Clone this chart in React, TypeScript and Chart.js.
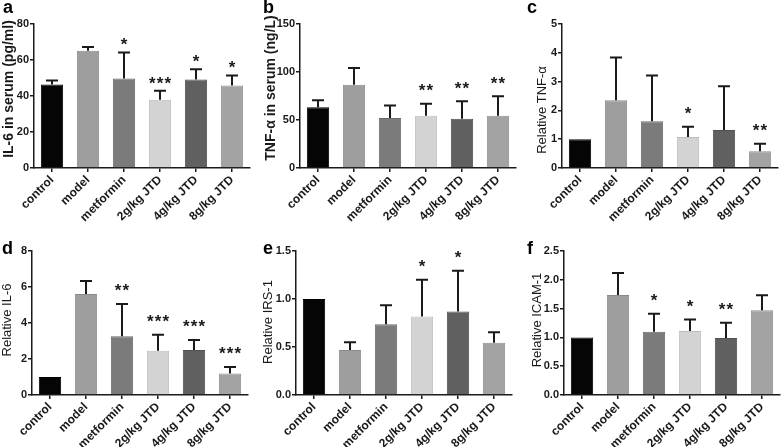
import React, { useEffect, useRef } from "react";
import { Chart, registerables } from "chart.js";
Chart.register(...registerables);

const FONT = '"Liberation Sans", Arial, Helvetica, sans-serif';
const INK = "#1a1a1a";

const categories = ["control", "model", "metformin", "2g/kg JTD", "4g/kg JTD", "8g/kg JTD"];
const barColors = ["#050505", "#9e9e9e", "#7b7b7b", "#d3d3d3", "#606060", "#a3a3a3"];
const barBorders = ["#000000", "#8a8a8a", "#6a6a6a", "#bdbdbd", "#505050", "#8f8f8f"];

// a: IL-6 in serum
const il6SerumMean = [46.4, 65.2, 49.7, 37.9, 49.2, 45.8];
const il6SerumErr = [2.2, 2.0, 14.5, 5.0, 5.6, 5.6];
const il6SerumStars = ["", "", "*", "***", "*", "*"];

// b: TNF-α in serum
const tnfSerumMean = [63.3, 86.7, 52.2, 54.3, 51.2, 54.3];
const tnfSerumErr = [7.3, 17.4, 12.9, 12.5, 18.4, 20.5];
const tnfSerumStars = ["", "", "", "**", "**", "**"];

// c: Relative TNF-α
const relTnfMean = [1.0, 2.35, 1.62, 1.08, 1.32, 0.58];
const relTnfErr = [0, 1.49, 1.59, 0.35, 1.52, 0.26];
const relTnfStars = ["", "", "", "*", "", "**"];

// d: Relative IL-6
const relIl6Mean = [1.0, 5.61, 3.26, 2.46, 2.5, 1.19];
const relIl6Err = [0, 0.72, 1.8, 0.89, 0.56, 0.37];
const relIl6Stars = ["", "", "**", "***", "***", "***"];

// e: Relative IRS-1
const relIrsMean = [1.0, 0.469, 0.736, 0.819, 0.87, 0.545];
const relIrsErr = [0, 0.08, 0.198, 0.381, 0.425, 0.108];
const relIrsStars = ["", "", "", "*", "*", ""];

// f: Relative ICAM-1
const relIcamMean = [1.0, 1.735, 1.1, 1.11, 0.99, 1.47];
const relIcamErr = [0, 0.385, 0.31, 0.2, 0.266, 0.26];
const relIcamStars = ["", "", "*", "*", "**", ""];

type PanelCfg = {
  letter: string;
  left: number; top: number; width: number; height: number;
  axisW: number; padTop: number; padR: number; xH: number;
  max: number; step: number; dec: number;
  title: string; titleBold: boolean; titleSize: number; titleX: number; titleY: number;
  starGap: number; letterX: number; letterY: number;
  means: number[]; errs: number[]; stars: string[];
};

const TOP = { top: 0, height: 222, padTop: 24, xH: 54, letterY: 13 };
const BOT = { top: 222, height: 225, padTop: 29, xH: 52, letterY: 32 };

const panels: PanelCfg[] = [
  { letter: "a", left: 0, width: 260, ...TOP, axisW: 34, padR: 10, max: 80, step: 20, dec: 0,
    title: "IL-6 in serum (pg/ml)", titleBold: true, titleSize: 14, titleX: 9, titleY: 89,
    starGap: 12, letterX: 3, means: il6SerumMean, errs: il6SerumErr, stars: il6SerumStars },
  { letter: "b", left: 260, width: 260, ...TOP, axisW: 40, padR: 4, max: 150, step: 50, dec: 0,
    title: "TNF-α in serum (ng/L)", titleBold: true, titleSize: 14, titleX: 11, titleY: 88,
    starGap: 17.5, letterX: 3, means: tnfSerumMean, errs: tnfSerumErr, stars: tnfSerumStars },
  { letter: "c", left: 522, width: 260, ...TOP, axisW: 40, padR: 4, max: 5, step: 1, dec: 0,
    title: "Relative TNF-α", titleBold: false, titleSize: 13, titleX: 20.5, titleY: 110,
    starGap: 17.5, letterX: 5, means: relTnfMean, errs: relTnfErr, stars: relTnfStars },
  { letter: "d", left: 0, width: 260, ...BOT, axisW: 32, padR: 12, max: 8, step: 2, dec: 0,
    title: "Relative IL-6", titleBold: false, titleSize: 13, titleX: 7.5, titleY: 98,
    starGap: 17.5, letterX: 2, means: relIl6Mean, errs: relIl6Err, stars: relIl6Stars },
  { letter: "e", left: 260, width: 260, ...BOT, axisW: 36, padR: 8, max: 1.5, step: 0.5, dec: 1,
    title: "Relative IRS-1", titleBold: false, titleSize: 13, titleX: 8, titleY: 100,
    starGap: 17.5, letterX: 3, means: relIrsMean, errs: relIrsErr, stars: relIrsStars },
  { letter: "f", left: 522, width: 260, ...BOT, axisW: 42, padR: 2, max: 2.5, step: 0.5, dec: 1,
    title: "Relative ICAM-1", titleBold: false, titleSize: 13, titleX: 15, titleY: 98,
    starGap: 17.5, letterX: 5, means: relIcamMean, errs: relIcamErr, stars: relIcamStars },
];

function makeOverlay(p: PanelCfg) {
  return {
    id: "overlay_" + p.letter,
    afterDatasetsDraw(chart: any) {
      const ctx = chart.ctx as CanvasRenderingContext2D;
      const meta = chart.getDatasetMeta(0);
      const ys = chart.scales.y;
      ctx.save();
      meta.data.forEach((bar: any, i: number) => {
        const m = p.means[i];
        const e = p.errs[i];
        const x = bar.x;
        let topY = ys.getPixelForValue(m);
        if (e > 0) {
          const y1 = ys.getPixelForValue(m + e);
          ctx.strokeStyle = INK;
          ctx.lineWidth = 2;
          ctx.beginPath();
          ctx.moveTo(x, ys.getPixelForValue(m));
          ctx.lineTo(x, y1);
          ctx.moveTo(x - 6, y1);
          ctx.lineTo(x + 6, y1);
          ctx.stroke();
          topY = y1;
        }
        const s = p.stars[i];
        if (s) {
          const fs = 17;
          ctx.fillStyle = INK;
          ctx.font = `bold ${fs}px ${FONT}`;
          ctx.textAlign = "center";
          ctx.textBaseline = "alphabetic";
          const cy = topY - p.starGap;
          const n = s.length;
          for (let k = 0; k < n; k++) {
            ctx.fillText("*", x + (k - (n - 1) / 2) * 7.8, cy + 0.58 * fs);
          }
        }
      });
      // panel letter
      ctx.fillStyle = "#000";
      ctx.font = `bold 18px ${FONT}`;
      ctx.textAlign = "left";
      ctx.textBaseline = "alphabetic";
      ctx.fillText(p.letter, p.letterX, p.letterY);
      // y-axis title
      ctx.translate(p.titleX, p.titleY);
      ctx.rotate(-Math.PI / 2);
      ctx.textAlign = "center";
      ctx.textBaseline = "middle";
      ctx.fillStyle = INK;
      ctx.font = `${p.titleBold ? "bold " : ""}${p.titleSize}px ${FONT}`;
      ctx.fillText(p.title, 0, 0);
      ctx.restore();
    },
  };
}

function Panel({ p }: { p: PanelCfg }) {
  const ref = useRef<HTMLCanvasElement>(null);
  useEffect(() => {
    const chart = new Chart(ref.current as HTMLCanvasElement, {
      type: "bar",
      data: {
        labels: categories,
        datasets: [
          {
            data: p.means,
            backgroundColor: barColors,
            borderColor: barBorders,
            borderWidth: 1,
            barPercentage: 0.62,
            categoryPercentage: 1.0,
          },
        ],
      },
      options: {
        responsive: false,
        animation: false,
        events: [],
        devicePixelRatio: 1,
        layout: { padding: { top: p.padTop, right: p.padR, left: 0, bottom: 0 } },
        plugins: { legend: { display: false }, tooltip: { enabled: false }, title: { display: false } },
        scales: {
          x: {
            offset: true,
            afterFit: (s: any) => { s.height = p.xH; },
            border: { display: true, color: INK, width: 1.5 },
            grid: { display: true, drawOnChartArea: false, drawTicks: true, tickLength: 4, offset: false, color: INK, lineWidth: 1.5 },
            ticks: {
              autoSkip: false, minRotation: 45, maxRotation: 45, padding: 1,
              color: INK, font: { family: FONT, size: 12, weight: "bold" },
            },
          },
          y: {
            min: 0,
            max: p.max,
            afterFit: (s: any) => { s.width = p.axisW; },
            border: { display: true, color: INK, width: 1.5 },
            grid: { display: true, drawOnChartArea: false, drawTicks: true, tickLength: 4, color: INK, lineWidth: 1.5 },
            ticks: {
              stepSize: p.step, padding: 1, color: INK,
              font: { family: FONT, size: 11, weight: "bold" },
              callback: (v: any) => Number(v).toFixed(p.dec),
            },
          },
        },
      } as any,
      plugins: [makeOverlay(p)],
    });
    return () => chart.destroy();
  }, []);
  return (
    <canvas
      ref={ref}
      width={p.width}
      height={p.height}
      style={{ position: "absolute", left: p.left, top: p.top, width: p.width, height: p.height }}
    />
  );
}

export default function App() {
  return (
    <div style={{ position: "fixed", left: 0, top: 0, width: 784, height: 447, background: "#fff", overflow: "hidden" }}>
      {panels.map((p) => (
        <Panel key={p.letter} p={p} />
      ))}
    </div>
  );
}
